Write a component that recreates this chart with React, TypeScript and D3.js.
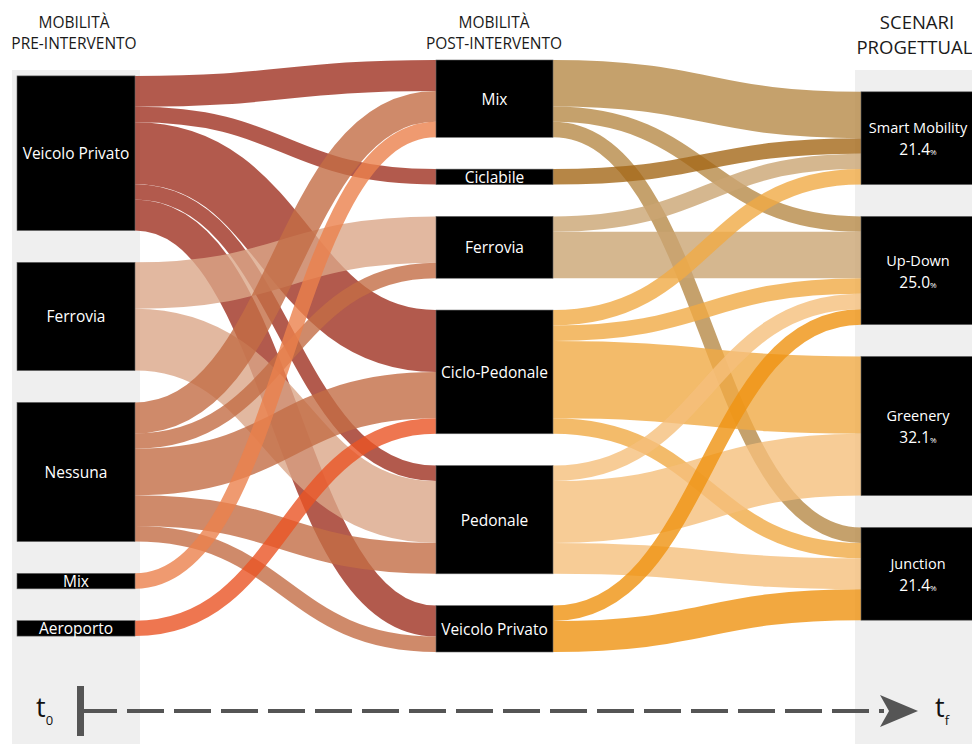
import React, { useRef, useEffect } from "react";
import * as d3 from "d3";

// nodes of the three columns
const preNodes = ["Veicolo Privato", "Ferrovia", "Nessuna", "Mix", "Aeroporto"];
const postNodes = ["Mix", "Ciclabile", "Ferrovia", "Ciclo-Pedonale", "Pedonale", "Veicolo Privato"];
const scenNodes = ["Smart Mobility", "Up-Down", "Greenery", "Junction"];
const scenShares = ["21.4", "25.0", "32.1", "21.4"];

// flows: [source index, target index, count]
const preToPost: [number, number, number][] = [
  [0, 0, 2], [0, 1, 1], [0, 3, 4], [0, 4, 1], [0, 5, 2],
  [1, 2, 3], [1, 4, 4],
  [2, 0, 2], [2, 2, 1], [2, 3, 3], [2, 4, 2], [2, 5, 1],
  [3, 0, 1],
  [4, 3, 1],
];
const postToScen: [number, number, number][] = [
  [0, 0, 3], [0, 1, 1], [0, 3, 1],
  [1, 0, 1],
  [2, 0, 1], [2, 1, 3],
  [3, 0, 1], [3, 1, 1], [3, 2, 5], [3, 3, 1],
  [4, 1, 1], [4, 2, 4], [4, 3, 2],
  [5, 1, 1], [5, 3, 2],
];

const preColors = ["#9f3120", "#dba688", "#c36d45", "#eb814c", "#ea5424"];
const postColors = ["#b68947", "#a46818", "#cba573", "#f0aa45", "#f5bf7c", "#ef9210"];

const W = 972;
const H = 744;
const FONT = "'Open Sans', sans-serif";

type N = { name: string; x0: number; x1: number; y0: number; y1: number; out: number; inn: number };

export default function App() {
  const svgRef = useRef<SVGSVGElement | null>(null);

  useEffect(() => {
    const svg = d3.select(svgRef.current);
    svg.selectAll("*").remove();

    const total = d3.sum(preToPost, (d) => d[2]);
    const y = d3.scaleLinear().domain([0, total]).range([0, 433]);
    const pad = 31.8;
    const cy = 356;

    const column = (names: string[], vals: number[], x: number, w: number): N[] => {
      const h = y(d3.sum(vals)) + pad * (names.length - 1);
      let y0 = cy - h / 2;
      return names.map((name, i) => {
        const n = { name, x0: x, x1: x + w, y0, y1: y0 + y(vals[i]), out: 0, inn: 0 };
        y0 = n.y1 + pad;
        return n;
      });
    };

    const preVals = preNodes.map((_, i) => d3.sum(preToPost.filter((f) => f[0] === i), (f) => f[2]));
    const postVals = postNodes.map((_, i) => d3.sum(preToPost.filter((f) => f[1] === i), (f) => f[2]));
    const scenVals = scenNodes.map((_, i) => d3.sum(postToScen.filter((f) => f[1] === i), (f) => f[2]));

    const pre = column(preNodes, preVals, 17, 118);
    const post = column(postNodes, postVals, 436, 117);
    const scen = column(scenNodes, scenVals, 861, 118);

    // grey panels
    svg.append("rect").attr("x", 12).attr("y", 70).attr("width", 128).attr("height", H - 70).attr("fill", "#efefef");
    svg.append("rect").attr("x", 855).attr("y", 70).attr("width", W - 855).attr("height", H - 70).attr("fill", "#efefef");

    const link = d3.linkHorizontal<any, [number, number]>().source((d: any) => d.s).target((d: any) => d.t);

    const drawFlows = (flows: [number, number, number][], src: N[], dst: N[], colors: string[]) => {
      const g = svg.append("g").attr("fill", "none").attr("stroke-opacity", 0.8);
      flows.forEach(([si, ti, v]) => {
        const s = src[si];
        const t = dst[ti];
        const w = y(v);
        const ys = s.y0 + s.out + w / 2;
        const yt = t.y0 + t.inn + w / 2;
        s.out += w;
        t.inn += w;
        g.append("path")
          .attr("d", link({ s: [s.x1, ys], t: [t.x0, yt] } as any))
          .attr("stroke", colors[si])
          .attr("stroke-width", w);
      });
    };

    drawFlows(preToPost, pre, post, preColors);
    drawFlows(postToScen, post, scen, postColors);

    const nodes = svg.append("g");
    [...pre, ...post, ...scen].forEach((n) => {
      nodes.append("rect")
        .attr("x", n.x0).attr("y", n.y0)
        .attr("width", n.x1 - n.x0).attr("height", n.y1 - n.y0)
        .attr("fill", "#000").attr("stroke", "#666").attr("stroke-width", 0.6);
    });

    [...pre, ...post].forEach((n) => {
      nodes.append("text")
        .attr("x", (n.x0 + n.x1) / 2).attr("y", (n.y0 + n.y1) / 2 + 6)
        .attr("text-anchor", "middle").attr("fill", "#fff")
        .attr("font-family", FONT).attr("font-size", 15.5)
        .text(n.name);
    });

    scen.forEach((n, i) => {
      const cx = 918;
      const c = (n.y0 + n.y1) / 2;
      nodes.append("text")
        .attr("x", cx).attr("y", c - 5)
        .attr("text-anchor", "middle").attr("fill", "#fff")
        .attr("font-family", FONT).attr("font-size", 14.5)
        .text(n.name);
      const t = nodes.append("text")
        .attr("x", cx).attr("y", c + 17)
        .attr("text-anchor", "middle").attr("fill", "#fff")
        .attr("font-family", FONT).attr("font-size", 15.5);
      t.append("tspan").text(scenShares[i]);
      t.append("tspan").attr("font-size", 8).text("%");
    });

    // column headers
    const header = (lines: string[], x: number, ys: number[], size: number) => {
      lines.forEach((l, i) => {
        svg.append("text")
          .attr("x", x).attr("y", ys[i])
          .attr("text-anchor", "middle").attr("fill", "#1a1a1a")
          .attr("font-family", FONT).attr("font-size", size)
          .text(l);
      });
    };
    header(["MOBILITÀ", "PRE-INTERVENTO"], 74, [28, 49], 15.5);
    header(["MOBILITÀ", "POST-INTERVENTO"], 494, [28, 49], 15.5);
    header(["SCENARI", "PROGETTUALI"], 917, [29, 54], 18.5);

    // time axis
    const axis = svg.append("g");
    axis.append("line")
      .attr("x1", 80).attr("x2", 884).attr("y1", 711).attr("y2", 711)
      .attr("stroke", "#555").attr("stroke-width", 4).attr("stroke-dasharray", "37 10");
    axis.append("rect").attr("x", 77).attr("y", 686).attr("width", 7).attr("height", 50).attr("fill", "#555");
    axis.append("path").attr("d", "M918,711 L880,695 L889,711 L880,727 Z").attr("fill", "#555");

    const tlabel = (x: number, sub: string) => {
      const t = axis.append("text").attr("x", x).attr("y", 717)
        .attr("font-family", FONT).attr("font-size", 27).attr("fill", "#111");
      t.append("tspan").text("t");
      t.append("tspan").attr("font-size", 13).attr("dy", 8).text(sub);
    };
    tlabel(36, "0");
    tlabel(935, "f");
  }, []);

  return (
    <svg
      ref={svgRef}
      width={W}
      height={H}
      style={{ position: "absolute", left: 0, top: 0, background: "#fff" }}
    />
  );
}
